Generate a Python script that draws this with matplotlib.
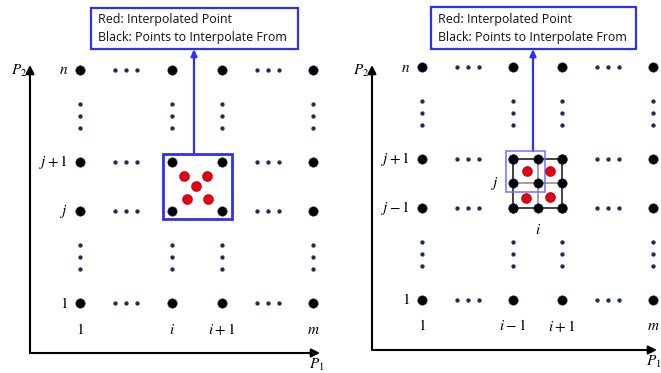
import matplotlib.pyplot as plt
from matplotlib.patches import Rectangle, FancyArrowPatch

plt.rcParams['mathtext.fontset'] = 'stix'

fig = plt.figure(figsize=(6.61, 3.73), dpi=100)
ax = fig.add_axes([0, 0, 1, 1])
ax.set_xlim(0, 661)
ax.set_ylim(373, 0)
ax.axis('off')

blue = '#3030f0'
navy = '#1c2f4f'

# grid of each panel: column / row positions and their index labels
left_cols = [80, 172, 222, 313]
left_rows = [70, 162, 211, 303]
left_col_labels = ['1', 'i', 'i+1', 'm']
left_row_labels = ['n', 'j+1', 'j', '1']

right_cols = [422, 513, 562, 653]
right_rows = [67, 159, 208, 300]
right_col_labels = ['1', 'i-1', 'i+1', 'm']
right_row_labels = ['n', 'j+1', 'j-1', '1']

# interpolated (red) points
left_red_x = [184, 207, 196, 187, 208]
left_red_y = [176, 176, 186, 199, 199]
right_red_x = [527, 550, 526, 550]
right_red_y = [171, 171, 198, 197]

# fine 3x3 neighbourhood in the right panel
fine_cols = [513, 538, 562]
fine_rows = [159, 183, 208]

legend_lines = ["Red: Interpolated Point", "Black: Points to Interpolate From"]


def mlabel(s):
    return '$' + s.replace('+', ' + ').replace('-', ' - ') + '$'


def draw_panel(cols, rows, col_labels, row_labels, x0, y_axis_top, x_axis_end, y_axis_bottom):
    # axes arrows
    ax.add_patch(FancyArrowPatch((x0, y_axis_bottom), (x0, y_axis_top), arrowstyle='-|>,head_length=5,head_width=2.5',
                                 lw=1.5, color='black', mutation_scale=1, shrinkA=0, shrinkB=0))
    ax.add_patch(FancyArrowPatch((x0, y_axis_bottom), (x_axis_end, y_axis_bottom),
                                 arrowstyle='-|>,head_length=5,head_width=2.5',
                                 lw=1.5, color='black', mutation_scale=1, shrinkA=0, shrinkB=0))
    ax.text(x0 - 3, y_axis_top + 6, '$P_2$', fontsize=11, ha='right', va='center')
    ax.text(x_axis_end - 3, y_axis_bottom + 12, '$P_1$', fontsize=11, ha='center', va='center')

    # big grid points
    for r in rows:
        ax.scatter(cols, [r] * len(cols), s=46, color='black', edgecolor='#1c2f6f', lw=0.4, zorder=3)
    # horizontal ellipsis dots
    gaps = [(cols[0], cols[1]), (cols[2], cols[3])]
    for r in rows:
        for a, b in gaps:
            mid = (a + b) / 2
            ax.scatter([mid - 11, mid, mid + 11], [r] * 3, s=4.5, color=navy, zorder=3)
    # vertical ellipsis dots
    vgaps = [(rows[0], rows[1]), (rows[2], rows[3])]
    for c in cols:
        for a, b in vgaps:
            mid = (a + b) / 2
            ax.scatter([c] * 3, [mid - 12, mid, mid + 12], s=4.5, color=navy, zorder=3)

    for c, lab in zip(cols, col_labels):
        ax.text(c, (rows[3] + y_axis_bottom) / 2 + 1, mlabel(lab), fontsize=11, ha='center', va='center')
    for r, lab in zip(rows, row_labels):
        ax.text(cols[0] - 12, r, mlabel(lab), fontsize=11, ha='right', va='center')


def draw_legend(x, y, w, h, arrow_x, arrow_from):
    ax.add_patch(Rectangle((x, y), w, h, fill=False, ec=blue, lw=1.6, zorder=4))
    ax.text(x + 7, y + 12, legend_lines[0], fontsize=8.9, family='Open Sans', va='center', color='#111111')
    ax.text(x + 7, y + 30, legend_lines[1], fontsize=8.9, family='Open Sans', va='center', color='#111111')
    ax.add_patch(FancyArrowPatch((arrow_x, arrow_from), (arrow_x, y + h),
                                 arrowstyle='-|>,head_length=4,head_width=1.8',
                                 lw=1.6, color=blue, mutation_scale=1, shrinkA=0, shrinkB=0))


# left panel
draw_panel(left_cols, left_rows, left_col_labels, left_row_labels, 30, 65, 320, 353)
ax.add_patch(Rectangle((163, 154), 69, 65, fill=False, ec=blue, lw=2.0, zorder=4))
ax.scatter(left_red_x, left_red_y, s=52, color='#e8000e', edgecolor='#8a1030', lw=0.4, zorder=5)
draw_legend(91, 8, 207, 41, 194, 154)

# right panel
draw_panel(right_cols, right_rows, right_col_labels, right_row_labels, 372, 65, 657, 350)
for k, y in enumerate(fine_rows):
    ax.plot([fine_cols[0], fine_cols[-1]], [y, y], color='#999999' if k == 1 else '#333333', lw=1.3, zorder=2)
for k, x in enumerate(fine_cols):
    ax.plot([x, x], [fine_rows[0], fine_rows[-1]], color='#999999' if k == 1 else '#333333', lw=1.3, zorder=2)
for y in fine_rows:
    ax.scatter(fine_cols, [y] * 3, s=46, color='black', edgecolor='#1c2f6f', lw=0.4, zorder=3)
ax.scatter(right_red_x, right_red_y, s=52, color='#e8000e', edgecolor='#8a1030', lw=0.4, zorder=5)
ax.add_patch(Rectangle((506, 151), 39, 41, fill=False, ec='#7070ff', lw=1.1, zorder=4))
ax.text(495, 184, '$j$', fontsize=11, ha='center', va='center')
ax.text(538, 230, '$i$', fontsize=11, ha='center', va='center')
draw_legend(431, 7, 205, 42, 533, 151)

fig.savefig('out.png', dpi=100)
